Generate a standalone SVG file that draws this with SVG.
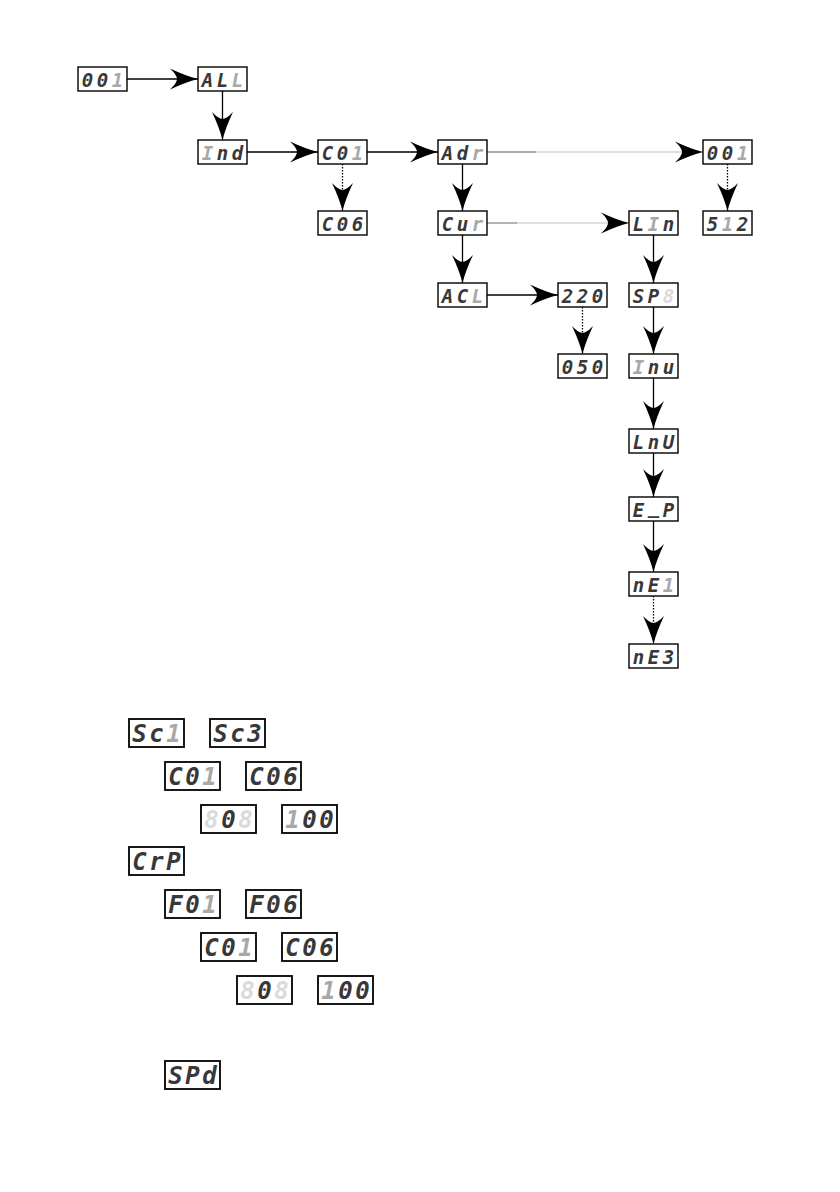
<svg xmlns="http://www.w3.org/2000/svg" width="840" height="1192" viewBox="0 0 840 1192">
<style>
.box{fill:#fff;stroke:#000;stroke-width:1.4}
.big{stroke-width:1.8}
.t{font-family:"DejaVu Sans Mono","Liberation Mono",monospace;font-weight:bold;font-style:italic;text-anchor:middle}
.s{font-size:19px}
.l{font-size:24px}
.off{fill:#dadada}
.on{fill:#383838}
.dim{fill:#a8a8a8}
.ln{fill:none;stroke:#000;stroke-width:1.3}
.arr{marker-end:url(#ah)}
.dot{stroke-dasharray:1.5 1.5}
.g1{stroke:#8c8c8c}
.g2{stroke:#d6d6d6}
</style>
<defs>
<marker id="ah" markerUnits="userSpaceOnUse" viewBox="-29 -12 30 24" refX="0" refY="0" markerWidth="30" markerHeight="24" orient="auto">
<path d="M0,0 Q-12,-3 -28,-10.5 Q-21,-4 -21,0 Q-21,4 -28,10.5 Q-12,3 0,0 Z" fill="#000"/>
</marker>
</defs>
<rect width="840" height="1192" fill="#fff"/>
<g id="connectors">
<path class="ln arr" d="M127,79 H198"/>
<path class="ln arr" d="M222.5,91 V140"/>
<path class="ln arr" d="M247,152 H318"/>
<path class="ln arr" d="M367,152 H438"/>
<path class="ln g1" d="M487,152 H536"/>
<path class="ln g2 arr" d="M536,152 H703"/>
<path class="ln dot arr" d="M342.5,164 V211"/>
<path class="ln arr" d="M462.5,164 V211"/>
<path class="ln dot arr" d="M727.5,164 V211"/>
<path class="ln g1" d="M487,223 H517"/>
<path class="ln g2 arr" d="M517,223 H629"/>
<path class="ln arr" d="M462.5,235 V283"/>
<path class="ln arr" d="M487,295 H558"/>
<path class="ln arr" d="M653.5,235 V283"/>
<path class="ln dot arr" d="M582.5,307 V354"/>
<path class="ln arr" d="M653.5,307 V354"/>
<path class="ln arr" d="M653.5,378 V429"/>
<path class="ln arr" d="M653.5,453 V497"/>
<path class="ln arr" d="M653.5,521 V572"/>
<path class="ln dot arr" d="M653.5,596 V644"/>
</g>
<g id="n001a"><rect class="box" x="78" y="67" width="49" height="24"/><text class="t s on" x="87.5 102.5 117.5" y="86.5">00<tspan class="dim">1</tspan></text></g>
<g id="nALL"><rect class="box" x="198" y="67" width="49" height="24"/><text class="t s on" x="207.5 222.5 237.5" y="86.5">AL<tspan class="dim">L</tspan></text></g>
<g id="nInd"><rect class="box" x="198" y="140" width="49" height="24"/><text class="t s on" x="207.5 222.5 237.5" y="159.5"><tspan class="dim">I</tspan>nd</text></g>
<g id="nC01a"><rect class="box" x="318" y="140" width="49" height="24"/><text class="t s on" x="327.5 342.5 357.5" y="159.5">C0<tspan class="dim">1</tspan></text></g>
<g id="nC06a"><rect class="box" x="318" y="211" width="49" height="24"/><text class="t s on" x="327.5 342.5 357.5" y="230.5">C06</text></g>
<g id="nAdr"><rect class="box" x="438" y="140" width="49" height="24"/><text class="t s on" x="447.5 462.5 477.5" y="159.5">Ad<tspan class="dim">r</tspan></text></g>
<g id="n001b"><rect class="box" x="703" y="140" width="49" height="24"/><text class="t s on" x="712.5 727.5 742.5" y="159.5">00<tspan class="dim">1</tspan></text></g>
<g id="nCur"><rect class="box" x="438" y="211" width="49" height="24"/><text class="t s on" x="447.5 462.5 477.5" y="230.5">Cu<tspan class="dim">r</tspan></text></g>
<g id="nLIn"><rect class="box" x="629" y="211" width="49" height="24"/><text class="t s on" x="638.5 653.5 668.5" y="230.5">L<tspan class="dim">I</tspan>n</text></g>
<g id="n512"><rect class="box" x="703" y="211" width="49" height="24"/><text class="t s on" x="712.5 727.5 742.5" y="230.5">5<tspan class="dim">1</tspan>2</text></g>
<g id="nACL"><rect class="box" x="438" y="283" width="49" height="24"/><text class="t s on" x="447.5 462.5 477.5" y="302.5">AC<tspan class="dim">L</tspan></text></g>
<g id="n220"><rect class="box" x="558" y="283" width="49" height="24"/><text class="t s on" x="567.5 582.5 597.5" y="302.5">220</text></g>
<g id="nSP"><rect class="box" x="629" y="283" width="49" height="24"/><text class="t s on" x="638.5 653.5" y="302.5">SP</text><text class="t s off" x="668.5" y="302.5">8</text></g>
<g id="n050"><rect class="box" x="558" y="354" width="49" height="24"/><text class="t s on" x="567.5 582.5 597.5" y="373.5">050</text></g>
<g id="nInu"><rect class="box" x="629" y="354" width="49" height="24"/><text class="t s on" x="638.5 653.5 668.5" y="373.5"><tspan class="dim">I</tspan>nu</text></g>
<g id="nLnU"><rect class="box" x="629" y="429" width="49" height="24"/><text class="t s on" x="638.5 653.5 668.5" y="448.5">LnU</text></g>
<g id="nE_P"><rect class="box" x="629" y="497" width="49" height="24"/><text class="t s on" x="638.5 653.5 668.5" y="516.5 512.5 516.5">E_P</text></g>
<g id="nnE1"><rect class="box" x="629" y="572" width="49" height="24"/><text class="t s on" x="638.5 653.5 668.5" y="591.5">nE<tspan class="dim">1</tspan></text></g>
<g id="nnE3"><rect class="box" x="629" y="644" width="49" height="24"/><text class="t s on" x="638.5 653.5 668.5" y="663.5">nE3</text></g>
<g id="bSc1"><rect class="box big" x="129" y="719" width="55" height="28"/><text class="t l on" x="139.5 156.5 173.5" y="741.5">Sc<tspan class="dim">1</tspan></text></g>
<g id="bSc3"><rect class="box big" x="210" y="719" width="55" height="28"/><text class="t l on" x="220.5 237.5 254.5" y="741.5">Sc3</text></g>
<g id="bC01a"><rect class="box big" x="165" y="762" width="55" height="28"/><text class="t l on" x="175.5 192.5 209.5" y="784.5">C0<tspan class="dim">1</tspan></text></g>
<g id="bC06a"><rect class="box big" x="246" y="762" width="55" height="28"/><text class="t l on" x="256.5 273.5 290.5" y="784.5">C06</text></g>
<g id="b0a"><rect class="box big" x="201" y="805" width="55" height="28"/><text class="t l off" x="211.5" y="827.5">8</text><text class="t l on" x="228.5" y="827.5">0</text><text class="t l off" x="245.5" y="827.5">8</text></g>
<g id="b100a"><rect class="box big" x="282" y="805" width="55" height="28"/><text class="t l on" x="292.5 309.5 326.5" y="827.5"><tspan class="dim">1</tspan>00</text></g>
<g id="bCrP"><rect class="box big" x="129" y="847" width="55" height="28"/><text class="t l on" x="139.5 156.5 173.5" y="869.5">CrP</text></g>
<g id="bF01"><rect class="box big" x="165" y="890" width="55" height="28"/><text class="t l on" x="175.5 192.5 209.5" y="912.5">F0<tspan class="dim">1</tspan></text></g>
<g id="bF06"><rect class="box big" x="246" y="890" width="55" height="28"/><text class="t l on" x="256.5 273.5 290.5" y="912.5">F06</text></g>
<g id="bC01b"><rect class="box big" x="201" y="933" width="55" height="28"/><text class="t l on" x="211.5 228.5 245.5" y="955.5">C0<tspan class="dim">1</tspan></text></g>
<g id="bC06b"><rect class="box big" x="282" y="933" width="55" height="28"/><text class="t l on" x="292.5 309.5 326.5" y="955.5">C06</text></g>
<g id="b0b"><rect class="box big" x="237" y="976" width="55" height="28"/><text class="t l off" x="247.5" y="998.5">8</text><text class="t l on" x="264.5" y="998.5">0</text><text class="t l off" x="281.5" y="998.5">8</text></g>
<g id="b100b"><rect class="box big" x="318" y="976" width="55" height="28"/><text class="t l on" x="328.5 345.5 362.5" y="998.5"><tspan class="dim">1</tspan>00</text></g>
<g id="bSPd"><rect class="box big" x="165" y="1061" width="55" height="28"/><text class="t l on" x="175.5 192.5 209.5" y="1083.5">SPd</text></g>
</svg>
